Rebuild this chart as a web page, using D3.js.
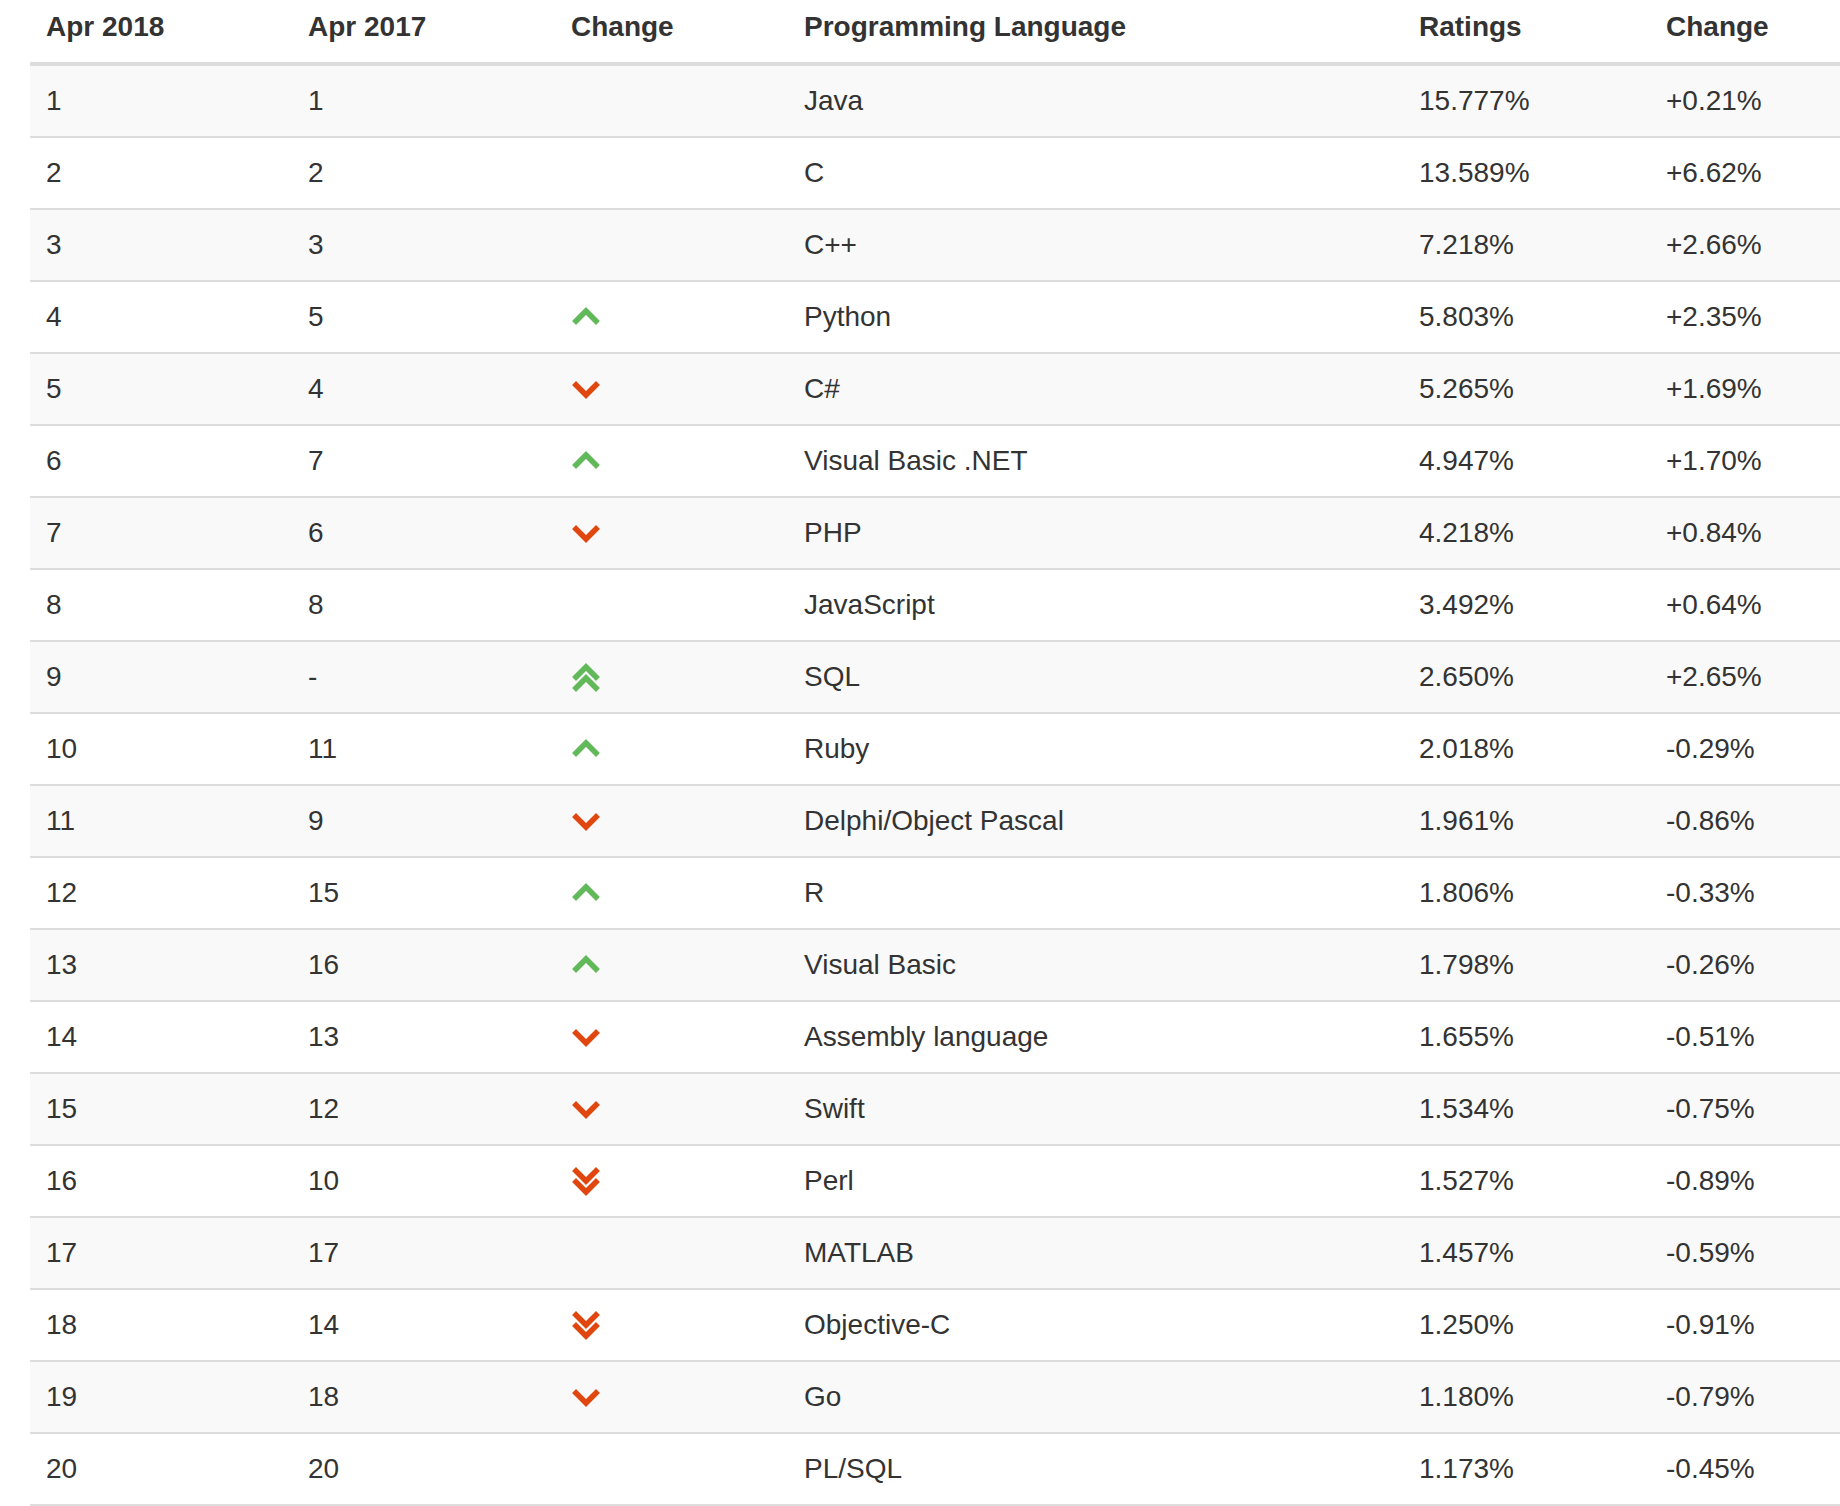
<!DOCTYPE html>
<html>
<head>
<meta charset="utf-8">
<script src="https://cdn.jsdelivr.net/npm/d3@7"></script>
<style>
  body { margin: 0; background: #fff; }
  text { font-family: "Liberation Sans", Arial, Helvetica, sans-serif; fill: #333; }
</style>
</head>
<body>
<div id="chart"></div>
<script>
// column headers
const headers = ["Apr 2018", "Apr 2017", "Change", "Programming Language", "Ratings", "Change"];

// table data
const rank2018 = ["1","2","3","4","5","6","7","8","9","10","11","12","13","14","15","16","17","18","19","20"];
const rank2017 = ["1","2","3","5","4","7","6","8","-","11","9","15","16","13","12","10","17","14","18","20"];
// up / down / upup / downdown / "" (no change)
const trend = ["","","","up","down","up","down","","upup","up","down","up","up","down","down","downdown","","downdown","down",""];
const languages = ["Java","C","C++","Python","C#","Visual Basic .NET","PHP","JavaScript","SQL","Ruby",
  "Delphi/Object Pascal","R","Visual Basic","Assembly language","Swift","Perl","MATLAB","Objective-C","Go","PL/SQL"];
const ratings = ["15.777%","13.589%","7.218%","5.803%","5.265%","4.947%","4.218%","3.492%","2.650%","2.018%",
  "1.961%","1.806%","1.798%","1.655%","1.534%","1.527%","1.457%","1.250%","1.180%","1.173%"];
const changes = ["+0.21%","+6.62%","+2.66%","+2.35%","+1.69%","+1.70%","+0.84%","+0.64%","+2.65%","-0.29%",
  "-0.86%","-0.33%","-0.26%","-0.51%","-0.75%","-0.89%","-0.59%","-0.91%","-0.79%","-0.45%"];

const W = 1840, H = 1506;
const tableLeft = 30;
const colLeft = [30, 292, 555, 788, 1403, 1650];   // cell left edges
const pad = 16;

const svg = d3.select("#chart").append("svg")
    .attr("width", W)
    .attr("height", H);

const col = d3.scaleOrdinal().domain(d3.range(6)).range(colLeft);
const y = d3.scaleBand().domain(d3.range(rank2018.length)).range([66, 66 + 72 * rank2018.length]);

// header
svg.selectAll("text.th")
    .data(headers)
    .enter()
    .append("text")
    .attr("class", "th")
    .attr("x", (d, i) => col(i) + pad)
    .attr("y", 36)
    .attr("font-size", "28px")
    .attr("font-weight", "bold")
    .text(d => d);

svg.append("rect")
    .attr("x", tableLeft).attr("y", 62)
    .attr("width", W - tableLeft).attr("height", 4)
    .attr("fill", "#ddd");

// rows
const rows = svg.selectAll("g.row")
    .data(d3.range(rank2018.length))
    .enter()
    .append("g")
    .attr("class", "row")
    .attr("transform", i => `translate(0,${y(i)})`);

rows.append("rect")
    .attr("x", tableLeft).attr("y", 0)
    .attr("width", W - tableLeft).attr("height", y.bandwidth() - 2)
    .attr("fill", i => i % 2 === 0 ? "#f9f9f9" : "#fff");

rows.append("rect")
    .attr("x", tableLeft).attr("y", y.bandwidth() - 2)
    .attr("width", W - tableLeft).attr("height", 2)
    .attr("fill", "#ddd");

const cellCols = [rank2018, rank2017, null, languages, ratings, changes];
cellCols.forEach((arr, c) => {
    if (!arr) return;
    rows.append("text")
        .attr("x", col(c) + pad)
        .attr("y", 44)
        .attr("font-size", "28px")
        .text(i => arr[i]);
});

// change arrows
const green = "#62b95a", red = "#e2460f";
const chevron = (dy, dir) => {
    // dir: -1 up, 1 down
    return `M-10,${dy - dir * 5} L0,${dy + dir * 5} L10,${dy - dir * 5}`;
};
rows.filter(i => trend[i] !== "")
    .append("path")
    .attr("transform", `translate(${col(2) + 31},35)`)
    .attr("fill", "none")
    .attr("stroke-width", 5.5)
    .attr("stroke-linejoin", "miter")
    .attr("stroke-linecap", "square")
    .attr("stroke", i => trend[i].startsWith("up") ? green : red)
    .attr("d", i => {
        const t = trend[i];
        if (t === "up") return chevron(-1, -1);
        if (t === "down") return chevron(1, 1);
        if (t === "upup") return chevron(-5, -1) + chevron(6, -1);
        return chevron(-5, 1) + chevron(6, 1);
    });
</script>
</body>
</html>
